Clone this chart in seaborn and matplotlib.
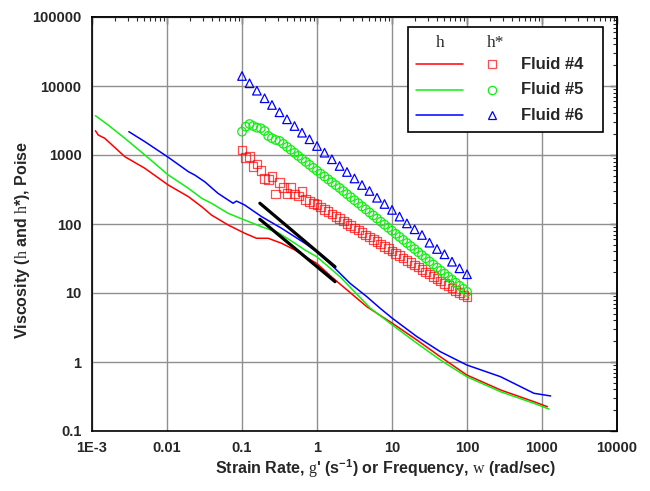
import numpy as np
import pandas as pd
import matplotlib
matplotlib.use("Agg")
import matplotlib.pyplot as plt
import seaborn as sns
from matplotlib.patches import Rectangle
from matplotlib.ticker import LogLocator, NullFormatter

# ---------------- data ----------------
# steady shear viscosity (lines)
f4_rate = [0.00111, 0.00121, 0.00148, 0.00274, 0.00507, 0.0104, 0.0193, 0.029, 0.0391,
           0.0652, 0.109, 0.156, 0.223, 0.337, 0.508, 0.691, 0.99, 1.65, 4.62, 10.1,
           21.5, 44.1, 99.3, 280, 780, 1178]
f4_eta = [2250, 1950, 1746, 945, 641, 367, 249, 178, 135, 96.8, 73.3, 62.1, 62.1, 52.5,
          42, 33.6, 26.9, 16.3, 6.33, 3.64, 2.08, 1.19, 0.648, 0.393, 0.266, 0.225]

f5_rate = [0.00111, 0.00164, 0.00274, 0.00507, 0.0104, 0.0193, 0.029, 0.0391, 0.0652,
           0.109, 0.182, 0.304, 0.508, 0.691, 0.99, 2.03, 5.11, 10.1, 21.5, 44.1, 99.3,
           280, 780, 1236]
f5_eta = [3715, 2722, 1746, 1000, 513, 329, 236, 200, 143, 114, 91.4, 74.8, 52.5, 42,
          33.6, 17.2, 6.06, 3.44, 1.87, 1.07, 0.612, 0.371, 0.252, 0.208]

f6_rate = [0.0031, 0.00507, 0.0104, 0.0193, 0.0234, 0.0318, 0.0479, 0.076, 0.0844, 0.109,
           0.182, 0.337, 0.691, 0.99, 1.65, 2.76, 4.62, 6.95, 10.1, 21.5, 44.1, 99.3,
           280, 780, 1303]
f6_eta = [2177, 1559, 926, 573, 513, 410, 278, 200, 215, 188, 128, 86.7, 52.5, 39.7, 24.0,
          13.8, 8.84, 6.0, 4.30, 2.33, 1.41, 0.905, 0.612, 0.352, 0.322]

# dynamic (complex) viscosity (markers)
freq = [0.1, 0.112, 0.126, 0.141, 0.158, 0.178, 0.2, 0.224, 0.251, 0.282,
        0.316, 0.355, 0.398, 0.447, 0.501, 0.562, 0.631, 0.708, 0.794, 0.891,
        1.0, 1.12, 1.26, 1.41, 1.58, 1.78, 2.0, 2.24, 2.51, 2.82,
        3.16, 3.55, 3.98, 4.47, 5.01, 5.62, 6.31, 7.08, 7.94, 8.91,
        10, 11.2, 12.6, 14.1, 15.8, 17.8, 20, 22.4, 25.1, 28.2,
        31.6, 35.5, 39.8, 44.7, 50.1, 56.2, 63.1, 70.8, 79.4, 89.1, 100]
f4_etastar = [1180, 914, 945, 676, 741, 592, 459, 444, 485, 272, 397, 340, 279, 340, 272,
              255, 294, 228, 210, 200, 190,
              176, 163, 151, 140, 129, 120, 111, 102, 94.9, 87.9, 81.3, 75.3, 69.7, 64.5,
              59.7, 55.3, 51.2, 47.4, 43.9, 40.6, 37.6, 34.8, 32.2, 29.8, 27.6, 25.6, 23.7,
              21.9, 20.3, 18.8, 17.4, 16.1, 14.9, 13.8, 12.8, 11.8, 10.9, 10.1, 9.4, 8.7]
f5_etastar = [2180, 2570, 2810, 2630, 2490, 2440, 2230, 1890, 1750, 1650, 1600, 1450, 1310,
              1190, 1075, 970, 880, 795, 720, 650, 590, 536, 488, 443, 403, 366, 333, 300,
              271, 245, 221, 200, 180, 163, 147, 133, 120, 108, 97.8, 88.3, 79.8, 72, 65,
              58.7, 53, 47.9, 43.2, 39, 35.3, 31.8, 28.7, 25.9, 23.4, 21.1, 19.1, 17.2,
              15.6, 14.1, 12.7, 11.5, 10.4]
freq6 = [0.1, 0.126, 0.158, 0.2, 0.251, 0.316, 0.398, 0.501, 0.631, 0.794, 1, 1.26, 1.58,
         2, 2.51, 3.16, 3.98, 5.01, 6.31, 7.94, 10, 12.6, 15.8, 20, 25.1, 31.6, 39.8, 50.1,
         63.1, 79.4, 100]
f6_etastar = [13960, 10940, 8550, 6640, 5310, 4160, 3290, 2630, 2105, 1690, 1350, 1080, 867,
              693, 567, 457, 367, 301, 240, 195, 160, 128, 102, 83.8, 69.3, 53.6, 43.4,
              36.4, 28.4, 22.8, 18.7]

# power-law guide lines (black)
guide1_x = [0.173, 1.74]
guide1_y = [200, 24]
guide2_x = [0.173, 1.74]
guide2_y = [117, 14.6]

fluids = ["Fluid #4", "Fluid #5", "Fluid #6"]
colors = ["#ff0000", "#11ee11", "#0000ff"]
markers = ["s", "o", "^"]

xtick_vals = [1e-3, 1e-2, 1e-1, 1, 10, 100, 1000, 10000]
xtick_labels = ["1E-3", "0.01", "0.1", "1", "10", "100", "1000", "10000"]
ytick_vals = [0.1, 1, 10, 100, 1000, 10000, 100000]
ytick_labels = ["0.1", "1", "10", "100", "1000", "10000", "100000"]

# ---------------- style ----------------
sns.set_style("white")
plt.rcParams["font.family"] = ["Liberation Sans", "DejaVu Sans"]
plt.rcParams["mathtext.fontset"] = "custom"
plt.rcParams["mathtext.rm"] = "Liberation Serif"
plt.rcParams["mathtext.sf"] = "Liberation Sans:bold"

fig = plt.figure(figsize=(6.5, 4.91), dpi=100)
ax = fig.add_axes([92 / 650, 60 / 491, 525 / 650, 414 / 491])

lines = pd.concat([
    pd.DataFrame({"x": f4_rate, "y": f4_eta, "fluid": fluids[0]}),
    pd.DataFrame({"x": f5_rate, "y": f5_eta, "fluid": fluids[1]}),
    pd.DataFrame({"x": f6_rate, "y": f6_eta, "fluid": fluids[2]}),
])
sns.lineplot(data=lines, x="x", y="y", hue="fluid", palette=colors, estimator=None,
             sort=False, legend=False, linewidth=1.1, ax=ax, zorder=3)

dyn = [(freq, f4_etastar), (freq, f5_etastar), (freq6, f6_etastar)]
alphas = [0.7, 1.0, 1.0]
for (fx, fy), c, m, a in zip(dyn, colors, markers, alphas):
    sns.scatterplot(x=fx, y=fy, marker=m, s=38, facecolors="none", edgecolors=c,
                    linewidths=0.9, alpha=a, ax=ax, zorder=4, legend=False)

for gx, gy in [(guide1_x, guide1_y), (guide2_x, guide2_y)]:
    sns.lineplot(x=gx, y=gy, color="black", linewidth=2.3, estimator=None, sort=False,
                 ax=ax, zorder=5)

ax.set_xscale("log")
ax.set_yscale("log")
ax.set_xlim(1e-3, 1e4)
ax.set_ylim(0.1, 1e5)

ax.set_xticks(xtick_vals, labels=xtick_labels)
ax.set_yticks(ytick_vals, labels=ytick_labels)
ax.xaxis.set_minor_locator(LogLocator(base=10, subs=np.arange(2, 10), numticks=100))
ax.yaxis.set_minor_locator(LogLocator(base=10, subs=np.arange(2, 10), numticks=100))
ax.xaxis.set_minor_formatter(NullFormatter())
ax.yaxis.set_minor_formatter(NullFormatter())
ax.tick_params(which="major", direction="inout", length=10, width=1.0, labelsize=10.5,
               pad=2.5, color="black")
ax.tick_params(which="minor", direction="in", length=3.5, width=0.8, color="black")
for lab in ax.get_xticklabels() + ax.get_yticklabels():
    lab.set_fontweight("bold")

for side in ["top", "right"]:
    if side == "top":
        sec = ax.secondary_xaxis("top")
        axis = sec.xaxis
    else:
        sec = ax.secondary_yaxis("right")
        axis = sec.yaxis
    axis.set_major_formatter(NullFormatter())
    axis.set_minor_formatter(NullFormatter())
    sec.tick_params(which="major", direction="in", length=5, width=1.0)
    sec.tick_params(which="minor", direction="in", length=3, width=0.8)
    for sp in sec.spines.values():
        sp.set_linewidth(1.2)

ax.grid(True, which="major", color="#8f8f8f", linewidth=1.0)
ax.set_axisbelow(True)
for sp in ax.spines.values():
    sp.set_color("black")
    sp.set_linewidth(1.2)

ax.set_xlabel(r"Strain Rate, $\mathrm{g}$' (s$^{\mathsf{-1}}$) or Frequency, $\mathrm{w}$ (rad/sec)",
              fontsize=11.5, fontweight="bold")
ax.set_ylabel(r"Viscosity ($\mathrm{h}$ and $\mathrm{h}$*), Poise", fontsize=11.5,
              fontweight="bold")
ax.xaxis.set_label_coords(0.56, -0.092)
ax.xaxis.label.set_verticalalignment("center")
ax.yaxis.set_label_coords(-0.133, 0.461)
ax.yaxis.label.set_verticalalignment("center")

# ---------------- legend ----------------
T = ax.transAxes
ax.add_patch(Rectangle((0.602, 0.722), 0.371, 0.254, transform=T, facecolor="white",
                       edgecolor="black", linewidth=1.2, zorder=10))
ax.text(0.664, 0.938, "h", family="Liberation Serif", fontsize=12.5, ha="center",
        va="center", transform=T, zorder=11)
ax.text(0.768, 0.938, "h*", family="Liberation Serif", fontsize=12.5, ha="center",
        va="center", transform=T, zorder=11)
row_y = [0.886, 0.824, 0.763]
for name, c, m, a, yy in zip(fluids, colors, markers, alphas, row_y):
    ax.plot([0.617, 0.707], [yy, yy], transform=T, color=c, lw=1.1, zorder=11)
    ax.plot([0.762], [yy], transform=T, marker=m, ms=6, mfc="none", mec=c, mew=0.9,
            ls="none", alpha=a, zorder=11)
    ax.text(0.817, yy, name, fontweight="bold", fontsize=12, va="center", ha="left",
            transform=T, zorder=11)

fig.savefig("out.png", dpi=100)
